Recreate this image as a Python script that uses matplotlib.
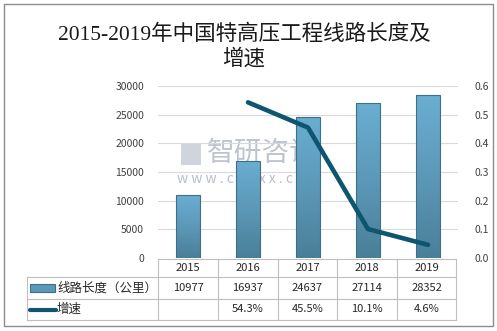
import numpy as np
import matplotlib.pyplot as plt
from matplotlib.patches import Rectangle
from matplotlib.colors import LinearSegmentedColormap

plt.rcParams['font.family'] = ['Noto Sans CJK SC', 'DejaVu Sans']

years = ['2015', '2016', '2017', '2018', '2019']
length_km = [10977, 16937, 24637, 27114, 28352]
growth = [None, 0.543, 0.455, 0.101, 0.046]
growth_labels = ['', '54.3%', '45.5%', '10.1%', '4.6%']
title = '2015-2019年中国特高压工程线路长度及\n增速'
bar_name = '线路长度（公里）'
line_name = '增速'

W, H = 497, 331
fig = plt.figure(figsize=(W / 100, H / 100), dpi=100)

# overlay in pixel coords for border, table and watermark
ov = fig.add_axes([0, 0, 1, 1], zorder=0)
ov.set_xlim(0, W)
ov.set_ylim(H, 0)
ov.axis('off')

ax = fig.add_axes([158 / W, (H - 258) / H, 300 / W, 172 / H], zorder=2)
ax.patch.set_alpha(0)
x = np.arange(len(years))
ax.grid(axis='y', color='#d9d9d9', lw=0.8)
ax.set_axisbelow(True)
for s in ax.spines.values():
    s.set_visible(False)
ax.tick_params(length=0, labelsize=7.5, colors='#404040', pad=10)
ax.set_xticks([])

# gradient bars
grad = np.linspace(0, 1, 256).reshape(-1, 1)
cmap = LinearSegmentedColormap.from_list('b', ['#4a7f98', '#5c98b8', '#6aaed2'])
bars = ax.bar(x, length_km, width=0.4, color='none', edgecolor='#3f6f86', lw=0.8, zorder=3)
for b in bars:
    bx, by = b.get_x(), b.get_y()
    im = ax.imshow(grad, cmap=cmap, aspect='auto', origin='lower',
                   extent=[bx, bx + b.get_width(), by, by + b.get_height()], zorder=2.5)
    im.set_clip_path(b)
ax.set_xlim(-0.5, len(years) - 0.5)
ax.set_ylim(0, 30000)
ax.set_yticks(range(0, 30001, 5000))

ax2 = ax.twinx()
ax2.set_ylim(0, 0.6)
ax2.set_yticks(np.arange(0, 0.61, 0.1))
ax2.yaxis.set_major_formatter(plt.FormatStrFormatter('%.1f'))
for s in ax2.spines.values():
    s.set_visible(False)
ax2.tick_params(length=0, labelsize=7.5, colors='#404040', pad=12)
gx = [i for i, g in enumerate(growth) if g is not None]
gy = [g for g in growth if g is not None]
ax2.plot(gx, gy, color='#0e5570', lw=3.3, solid_capstyle='round', zorder=4)

# outer border
ov.add_patch(Rectangle((3.5, 3.5), 489, 322, fill=False, ec='#8c8c8c', lw=1))

# title
ov.text(244, 47, title, ha='center', va='center', fontsize=15.5,
        family=['Liberation Serif', 'Noto Sans CJK SC'], fontweight='medium',
        color='#1a1a1a', linespacing=1.25)

# watermark
ov.text(262, 153, '智研咨询', ha='center', va='center', fontsize=20,
        color='#8a94a8', alpha=0.55, zorder=1)
ov.text(249, 179, 'w w w . c h y x x . c o m', ha='center', va='center',
        fontsize=10, color='#8a94a8', alpha=0.6, zorder=1)
ov.add_patch(Rectangle((181, 144), 20, 21, fc='#8a94a8', alpha=0.4, ec='none'))

# data table
col_edges = [158, 218, 278, 337, 397, 456]
row_edges = [259, 277, 299, 320]
lc = '#bfbfbf'
for xe in col_edges:
    ov.plot([xe, xe], [row_edges[0], row_edges[-1]], color=lc, lw=0.8)
ov.plot([27, 27], [row_edges[1], row_edges[-1]], color=lc, lw=0.8)
ov.plot([158, 456], [row_edges[0], row_edges[0]], color=lc, lw=0.8)
for ye in row_edges[1:]:
    ov.plot([27, 456], [ye, ye], color=lc, lw=0.8)
centers = [(a + b) / 2 for a, b in zip(col_edges[:-1], col_edges[1:])]
rows_mid = [(a + b) / 2 for a, b in zip(row_edges[:-1], row_edges[1:])]
for cx, yr, v, g in zip(centers, years, length_km, growth_labels):
    ov.text(cx, rows_mid[0], yr, ha='center', va='center', fontsize=8, color='#262626')
    ov.text(cx, rows_mid[1], str(v), ha='center', va='center', fontsize=8, color='#262626')
    ov.text(cx, rows_mid[2], g, ha='center', va='center', fontsize=8, color='#262626')

# legend keys in table
ov.add_patch(Rectangle((30, 284), 25, 8, fc='#5c98b8', ec='#3f6f86', lw=0.8))
ov.plot([30, 56], [rows_mid[2], rows_mid[2]], color='#0e5570', lw=3, solid_capstyle='round')
ov.text(57, rows_mid[1], bar_name, ha='left', va='center', fontsize=9, color='#262626')
ov.text(57, rows_mid[2], line_name, ha='left', va='center', fontsize=9, color='#262626')

fig.savefig('out.png', dpi=100)
